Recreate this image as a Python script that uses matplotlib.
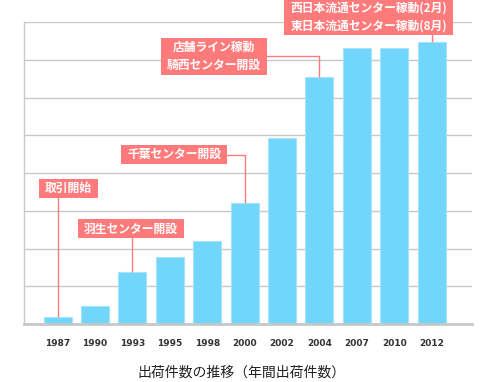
import matplotlib
matplotlib.use('Agg')
import matplotlib.pyplot as plt
from matplotlib.patches import Rectangle

plt.rcParams['font.family'] = ['Noto Sans CJK JP', 'DejaVu Sans']

# Data
years = ['1987', '1990', '1993', '1995', '1998', '2000', '2002', '2004', '2007', '2010', '2012']
shipments = [0.18, 0.47, 1.37, 1.77, 2.21, 3.21, 4.92, 6.53, 7.30, 7.30, 7.47]

# Event labels: (bar index, text)
events = [
    (0, '取引開始'),
    (2, '羽生センター開設'),
    (5, '千葉センター開設'),
    (7, '店舗ライン稼動\n騎西センター開設'),
    (10, '西日本流通センター稼動(2月)\n東日本流通センター稼動(8月)'),
]
# Box centers in data coords (layout)
box_pos = [(0.28, 3.59), (1.96, 2.52), (3.12, 4.49), (4.18, 7.09), (8.32, 8.13)]

title = '出荷件数の推移（年間出荷件数）'

bar_color = '#72d5fa'
tag_color = '#ff7b7b'
grid_color = '#c8c8c8'

fig = plt.figure(figsize=(4.9, 3.82), dpi=100)
ax = fig.add_axes([24 / 490, 58 / 382, 448 / 490, 302 / 382])

x = list(range(len(years)))
ax.bar(x, shipments, width=0.75, color=bar_color, edgecolor='#a6e4fb',
       linewidth=0.8, zorder=2)

ax.set_xlim(-0.9, 11.08)
ax.set_ylim(0, 8)
ax.set_yticks(range(0, 9))
ax.set_yticklabels([])
ax.tick_params(axis='y', length=0)
ax.yaxis.grid(True, color=grid_color, linewidth=1.0, zorder=0)
ax.set_axisbelow(True)

ax.set_xticks(x)
ax.set_xticklabels(years, fontsize=6.5, color='#333333', fontweight='bold',
                   family=['DejaVu Sans'])
ax.tick_params(axis='x', length=0, pad=11)

for side in ['top', 'right']:
    ax.spines[side].set_visible(False)
ax.spines['left'].set_color(grid_color)
ax.spines['left'].set_linewidth(1.0)
ax.spines['bottom'].set_color(grid_color)
ax.spines['bottom'].set_linewidth(2.0)

# connector lines
for (i, label), (bx, by) in zip(events, box_pos):
    ax.plot([bx, i, i], [by, by, shipments[i]], color=tag_color, linewidth=1.0,
            zorder=3, clip_on=False, solid_capstyle='butt')

texts = []
for (i, label), (bx, by) in zip(events, box_pos):
    t = ax.text(bx, by, label, ha='center', va='center', fontsize=8.5,
                fontweight='bold', color='white', linespacing=1.45, zorder=6)
    texts.append(t)

fig.canvas.draw()
renderer = fig.canvas.get_renderer()
inv = ax.transData.inverted()
padx, pady = 6, 3
for t in texts:
    bb = t.get_window_extent(renderer)
    (x0, y0) = inv.transform((bb.x0 - padx, bb.y0 - pady))
    (x1, y1) = inv.transform((bb.x1 + padx, bb.y1 + pady))
    ax.add_patch(Rectangle((x0, y0), x1 - x0, y1 - y0, facecolor=tag_color,
                           edgecolor='none', zorder=5, clip_on=False))

fig.text(241 / 490, 1 - 373 / 382, title, ha='center', va='center',
         fontsize=10, color='#222222')

fig.savefig('out.png', dpi=100)
